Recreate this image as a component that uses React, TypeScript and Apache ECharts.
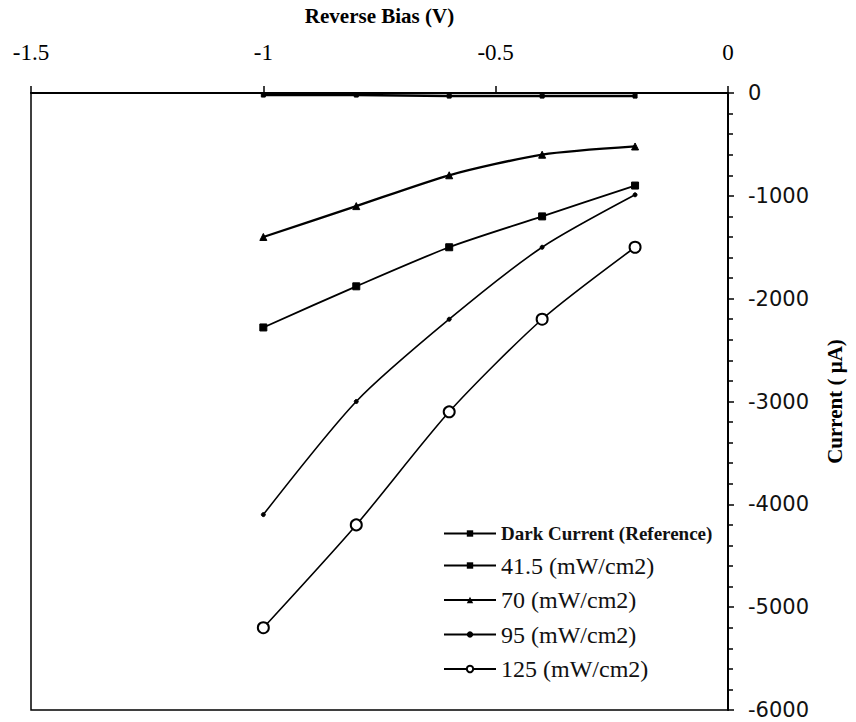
import React, { useEffect, useRef } from "react";
import * as echarts from "echarts";

const voltage = [-1, -0.8, -0.6, -0.4, -0.2];
const darkCurrent = [-20, -20, -30, -30, -30];
const i41_5 = [-2280, -1880, -1500, -1200, -900];
const i70 = [-1400, -1100, -800, -600, -520];
const i95 = [-4100, -3000, -2200, -1500, -990];
const i125 = [-5200, -4200, -3100, -2200, -1500];
const seriesNames = [
  "Dark Current (Reference)",
  "41.5 (mW/cm2)",
  "70 (mW/cm2)",
  "95 (mW/cm2)",
  "125 (mW/cm2)",
];

const SERIF = "'Liberation Serif', 'Times New Roman', serif";
const SANS = "'DejaVu Sans', Verdana, sans-serif";

function pairs(ys: number[]) {
  return voltage.map((x, i) => [x, ys[i]]);
}

export default function App() {
  const ref = useRef<HTMLDivElement>(null);
  useEffect(() => {
    if (!ref.current) return;
    const chart = echarts.init(ref.current, null, { renderer: "svg" });
    const mk = (
      name: string,
      ys: number[],
      symbol: string,
      symbolSize: number,
      width: number,
      extra: any = {}
    ) => ({
      name,
      type: "line",
      data: pairs(ys),
      symbol,
      symbolSize,
      smooth: 0.25,
      lineStyle: { color: "#000", width },
      itemStyle: { color: "#000", borderColor: "#000", ...(extra.itemStyle || {}) },
      z: 3,
    });
    chart.setOption({
      animation: false,
      backgroundColor: "#fff",
      grid: {
        left: 31,
        right: 128,
        top: 93,
        bottom: 12,
        show: true,
        borderColor: "#000",
        borderWidth: 1.5,
      },
      legend: {
        orient: "vertical",
        left: 438,
        top: 519,
        itemWidth: 52,
        itemHeight: 8,
        itemGap: 10.5,
        data: seriesNames,
        formatter: (n: string) => (n.startsWith("Dark") ? `{s|${n}}` : `{b|${n}}`),
        textStyle: {
          color: "#000",
          rich: {
            s: { fontFamily: SERIF, fontSize: 19, fontWeight: "bold", lineHeight: 24, color: "#111" },
            b: { fontFamily: SERIF, fontSize: 24, lineHeight: 24, color: "#111" },
          },
        },
      },
      xAxis: {
        type: "value",
        position: "top",
        min: -1.5,
        max: 0,
        interval: 0.5,
        name: "Reverse Bias (V)",
        nameLocation: "middle",
        nameGap: 67,
        nameTextStyle: { fontFamily: SERIF, fontSize: 21, fontWeight: "bold", color: "#000" },
        axisLine: { show: true, lineStyle: { color: "#000", width: 2 } },
        axisTick: { show: true, length: 7, lineStyle: { color: "#000", width: 1.5 } },
        axisLabel: { fontFamily: SERIF, fontSize: 23, color: "#000", margin: 29 },
        splitLine: { show: false },
      },
      yAxis: {
        type: "value",
        position: "right",
        min: -6000,
        max: 0,
        interval: 1000,
        name: "Current ( \u03bcA)",
        nameLocation: "middle",
        nameRotate: 90,
        nameGap: 96,
        nameTextStyle: { fontFamily: SERIF, fontSize: 21, fontWeight: "bold", color: "#000" },
        axisLine: { show: true, lineStyle: { color: "#000", width: 2 } },
        axisTick: { show: true, length: 6, lineStyle: { color: "#000", width: 1.5 } },
        minorTick: { show: true, splitNumber: 5, length: 5, lineStyle: { color: "#000", width: 1.5 } },
        axisLabel: {
          fontFamily: SANS,
          fontSize: 21,
          color: "#111",
          margin: 20,
          formatter: (v: number) => String(v),
        },
        splitLine: { show: false },
        minorSplitLine: { show: false },
      },
      series: [
        mk(seriesNames[0], darkCurrent, "rect", 4, 2.5),
        mk(seriesNames[1], i41_5, "rect", 7, 1.8),
        mk(seriesNames[2], i70, "triangle", 7, 2.3),
        mk(seriesNames[3], i95, "circle", 4, 1.6),
        mk(seriesNames[4], i125, "circle", 11, 1.6, {
          itemStyle: { color: "#fff", borderColor: "#000", borderWidth: 2 },
        }),
      ],
    });
    return () => chart.dispose();
  }, []);
  return (
    <div
      ref={ref}
      style={{ position: "fixed", left: 0, top: 0, width: 856, height: 722, background: "#fff" }}
    />
  );
}
